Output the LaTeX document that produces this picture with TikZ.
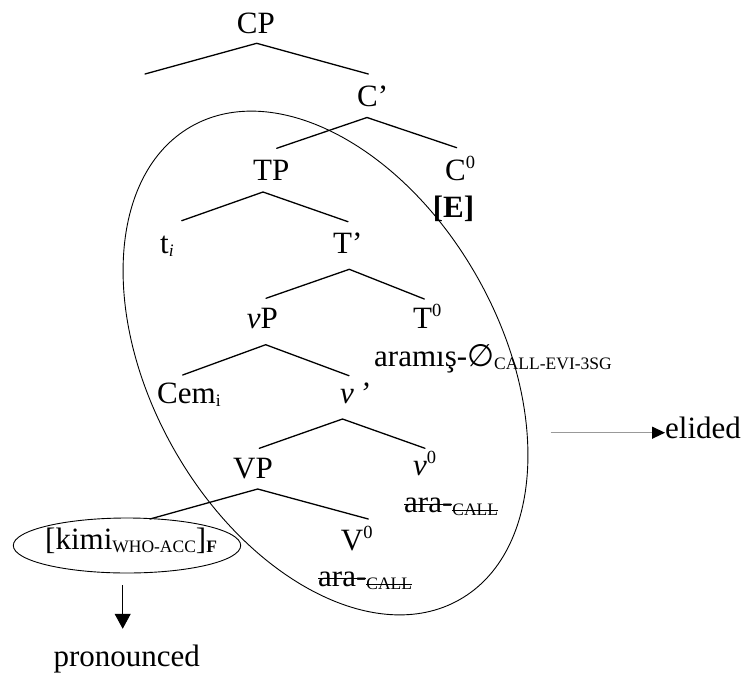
\documentclass[tikz,border=0pt]{standalone}
\usepackage{fontspec}
\setmainfont{Liberation Serif}
\newfontfamily\symfont{DejaVu Sans}
\usetikzlibrary{arrows.meta,shapes.geometric}

% lowered small subscript and raised superscript
\newcommand\lsub[1]{\raisebox{-3pt}{\fontsize{17.5}{17.5}\selectfont #1}}
\newcommand\lsup[1]{\raisebox{11.5pt}{\fontsize{18.5}{18.5}\selectfont #1}}
% strike-through drawn at mid x-height of the current font
\newsavebox\strikebox
\newcommand\strikeout[1]{\sbox\strikebox{#1}\rlap{\rule[\dimexpr.55ex-0.65pt\relax]{\wd\strikebox}{1.3pt}}\usebox\strikebox}
% struck-through (elided) verb
\newcommand\struck{\strikeout{ara-}\lsub{\strikeout{CALL}}}

\begin{document}
\begin{tikzpicture}[x=1pt,y=-1pt,
  tx/.style={anchor=base west, inner sep=0pt, font=\fontsize{31}{37}\selectfont},
  branch/.style={line width=1.3pt, line cap=round},
  ring/.style={draw, ellipse, line width=0.9pt, inner sep=0pt}]
\useasboundingbox (0,0) rectangle (744,672);

% labels
\node[tx] (cp) at (236.7,33) {CP};
\node[tx] (cbar) at (357,106) {C’};
\node[tx] (tp) at (253,180) {TP};
\node[tx] (c0) at (445,180) {C\lsup{0}};
\node[tx] (ehead) at (432.7,217) {\textbf{[E]}};
\node[tx] (trace) at (160,253) {t\lsub{\textit{i}}};
\node[tx] (tbar) at (333,253) {T’};
\node[tx] (vpnode) at (246.7,328) {\textit{v}P};
\node[tx] (t0) at (413,328) {T\lsup{0}};
\node[tx] (tverb) at (374,366) {aramış-{\symfont ∅}\lsub{CALL-EVI-3SG}};
\node[tx] (cem) at (157,403) {Cem\lsub{i}};
\node[tx] (vbar) at (340,403) {\textit{v\,’}};
\node[tx] (VPnode) at (233,478) {VP};
\node[tx] (v0) at (413,475) {\textit{v}\lsup{0}};
\node[tx] (vverb) at (404,512) {\struck};
\node[tx] (V0) at (340.7,550) {V\lsup{0}};
\node[tx] (Vverb) at (318,586) {\struck};
\node[tx] (kimi) at (45,549) {[kimi\lsub{WHO-ACC}]\lsub{\textbf{F}}};
\node[tx] (pron) at (53.3,666) {pronounced};
\node[tx] (elided) at (665,438) {elided};

% branch points
\coordinate (cp-a) at (256.7,43.3);  \coordinate (cp-l) at (145,74);    \coordinate (cp-r) at (368.3,74);
\coordinate (cb-a) at (367,117.5);   \coordinate (cb-l) at (276.7,148.3); \coordinate (cb-r) at (456.7,147.7);
\coordinate (tp-a) at (263,192);     \coordinate (tp-l) at (181.7,220.7); \coordinate (tp-r) at (348,221.7);
\coordinate (tb-a) at (349.3,269.3); \coordinate (tb-l) at (266,298.3);   \coordinate (tb-r) at (424.3,299);
\coordinate (vp-a) at (265.7,344.7); \coordinate (vp-l) at (182.7,375);   \coordinate (vp-r) at (349,375.7);
\coordinate (vb-a) at (342.5,419);   \coordinate (vb-l) at (259.3,448.3); \coordinate (vb-r) at (425,448.3);
\coordinate (VP-a) at (257.7,489);   \coordinate (VP-l) at (150,519);     \coordinate (VP-r) at (368.3,519);

\foreach \n in {cp,cb,tp,tb,vp,vb,VP}
  \draw[branch] (\n-l) -- (\n-a) -- (\n-r);

% elided domain and focused phrase
\node[ring, minimum width=544pt, minimum height=348.8pt, rotate=-60.5] (zone) at (325.5,363) {};
\node[ring, minimum width=227.4pt, minimum height=55pt] (focus) at (127,545.5) {};

% arrows
\coordinate (pr-x) at (122.7,0);
\draw[line width=1pt, -{Triangle[length=15pt,width=16pt]}, shorten <=12pt, shorten >=15.5pt]
  (focus.south -| pr-x) -- (pron.north -| pr-x);
\coordinate (el-from) at (550.7,432.7);
\draw[draw=black!40, line width=1.3pt, -{Triangle[color=black,length=13pt,width=12pt]}]
  (el-from) -- (el-from -| elided.west);
\end{tikzpicture}
\end{document}
